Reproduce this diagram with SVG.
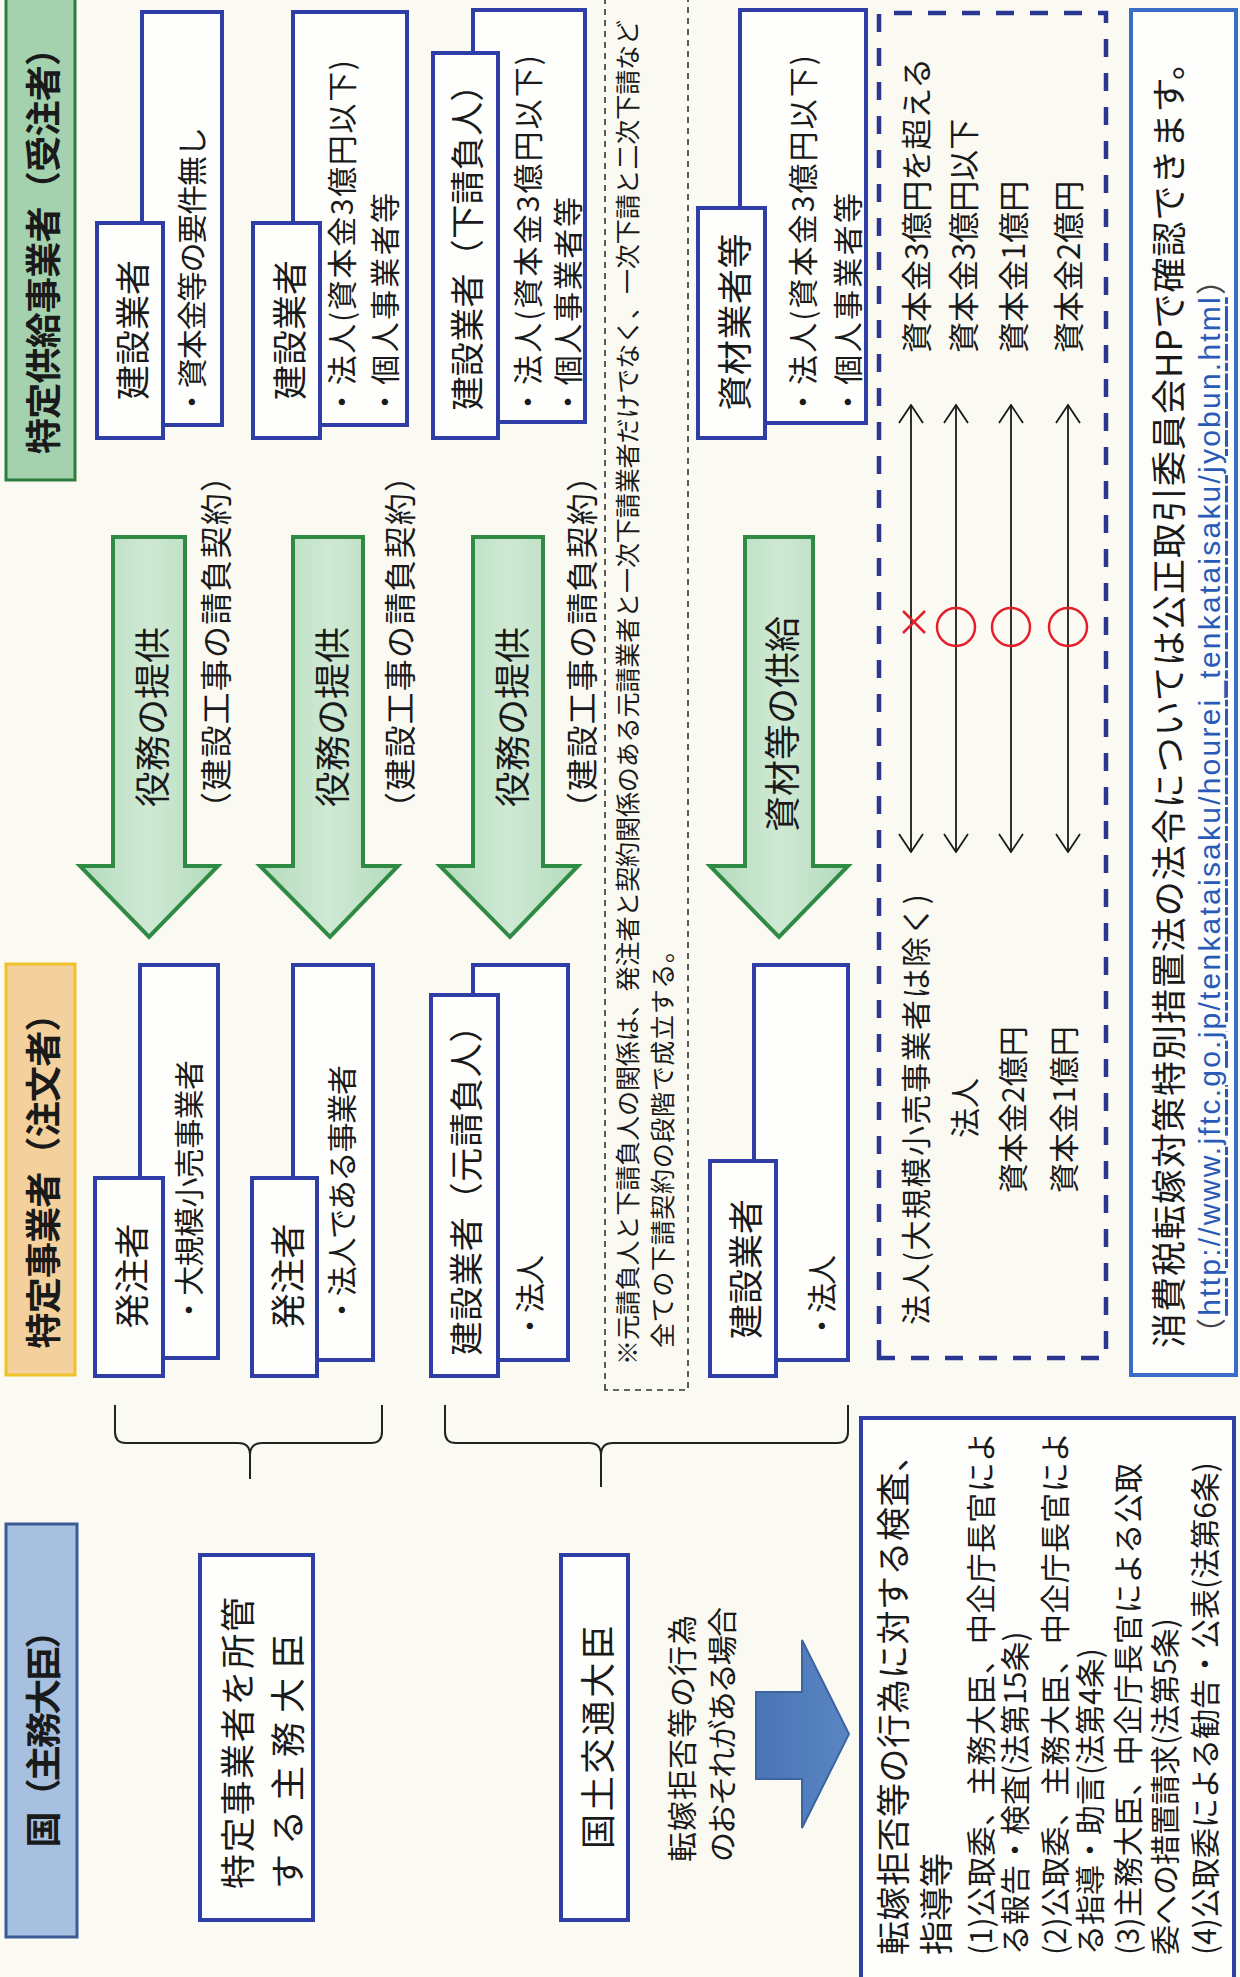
<svg xmlns="http://www.w3.org/2000/svg" width="1240" height="1977" viewBox="0 0 1240 1977">
<defs>
<style>
.bx{fill:#fefefc;stroke:#2e3ea6;stroke-width:4}
.t{font-family:"Noto Sans CJK JP","Noto Sans CJK SC",sans-serif;fill:#1a1a1a;dominant-baseline:central}
.hd{font-size:36px;font-weight:700}
.ttl{font-size:35px}
.dt{font-size:31px}
.sm{font-size:30px}
.nt{font-size:25px}
.m{text-anchor:middle}
.garrow{fill:url(#gg);stroke:#2f8a43;stroke-width:4;stroke-linejoin:miter}
.dbl{stroke:#1a1a1a;stroke-width:1.8;fill:none;marker-start:url(#ah);marker-end:url(#ah)}
.brace{fill:none;stroke:#222;stroke-width:2}
.red{fill:none;stroke:#e3202b;stroke-width:2.5}
</style>
<linearGradient id="gg" x1="0" y1="0" x2="0" y2="1">
<stop offset="0" stop-color="#b3dbbb"/>
<stop offset="0.5" stop-color="#cfe9d4"/>
<stop offset="1" stop-color="#b3dbbb"/>
</linearGradient>
<linearGradient id="bg" x1="0" y1="0" x2="0" y2="1">
<stop offset="0" stop-color="#4a74b4"/>
<stop offset="1" stop-color="#5a86c4"/>
</linearGradient>
<marker id="ah" viewBox="0 0 20 26" markerWidth="20" markerHeight="26" refX="19" refY="13" orient="auto-start-reverse" markerUnits="userSpaceOnUse">
<path d="M1,1 L19,13 L1,25" fill="none" stroke="#1a1a1a" stroke-width="1.8"/>
</marker>
</defs>
<rect x="0" y="0" width="1240" height="1977" fill="#fafaf3"/>
<g transform="translate(0,1977) rotate(-90)">

<g id="connectors">
<polygon class="garrow" points="1440,113 1111,113 1111,80 1040,149 1111,218 1111,185 1440,185"/>
<polygon class="garrow" points="1440,293 1111,293 1111,260 1040,330 1111,398 1111,363 1440,363"/>
<polygon class="garrow" points="1440,473 1111,473 1111,440 1040,510 1111,578 1111,543 1440,543"/>
<polygon class="garrow" points="1440,745 1111,745 1111,710 1040,779 1111,848 1111,813 1440,813"/>
<text class="t m" x="1260" y="150" style="font-size:36px">役務の提供</text>
<text class="t m" x="1260" y="330" style="font-size:36px">役務の提供</text>
<text class="t m" x="1260" y="510" style="font-size:36px">役務の提供</text>
<text class="t m" x="1253" y="780" style="font-size:36px">資材等の供給</text>
<text class="t m" x="1335" y="214" style="font-size:32px" textLength="364">（建設工事の請負契約）</text>
<text class="t m" x="1335" y="398" style="font-size:32px" textLength="364">（建設工事の請負契約）</text>
<text class="t m" x="1335" y="580" style="font-size:32px" textLength="364">（建設工事の請負契約）</text>
<path class="brace" d="M572 115 L545 115 Q534 115 534 126 L534 238 Q534 250 522 250 L498 250 M522 250 Q534 250 534 262 L534 371 Q534 382 545 382 L572 382"/>
<path class="brace" d="M572 445 L545 445 Q534 445 534 456 L534 589 Q534 601 522 601 L490 601 M522 601 Q534 601 534 613 L534 837 Q534 848 545 848 L572 848"/>
<polygon points="198,756 285,756 285,802 337,802 243,849 149,802 198,802" fill="url(#bg)" stroke="#3d64a0" stroke-width="2"/>
<line class="dbl" x1="1125" y1="911" x2="1572" y2="911"/>
<line class="dbl" x1="1125" y1="956" x2="1572" y2="956"/>
<line class="dbl" x1="1125" y1="1011" x2="1572" y2="1011"/>
<line class="dbl" x1="1125" y1="1068" x2="1572" y2="1068"/>
</g>

<g id="header-supplier">
<rect x="1497" y="6" width="495" height="69" fill="#a5d2ae" stroke="#2e7d3f" stroke-width="3"/>
<text class="t hd m" x="1735" y="41" textLength="424">特定供給事業者（受注者）</text>
</g>
<g id="header-orderer">
<rect x="602" y="6" width="411" height="69" fill="#f3d09c" stroke="#f0c22a" stroke-width="3"/>
<text class="t hd m" x="805" y="41" textLength="353">特定事業者（注文者）</text>
</g>
<g id="header-state">
<rect x="40" y="6" width="413" height="71" fill="#a7c0df" stroke="#3c5a96" stroke-width="3"/>
<text class="t hd m" x="247" y="41" textLength="235">国（主務大臣）</text>
</g>

<g id="supplier-1">
<rect class="bx" x="1552" y="142" width="413" height="80"/>
<rect class="bx" x="1539" y="97" width="215" height="66"/>
<text class="t ttl m" x="1647" y="130">建設業者</text>
<text class="t sm" x="1560" y="190" textLength="290">・資本金等の要件無し</text>
</g>
<g id="supplier-2">
<rect class="bx" x="1552" y="293" width="413" height="114"/>
<rect class="bx" x="1539" y="253" width="215" height="67"/>
<text class="t ttl m" x="1647" y="287">建設業者</text>
<text class="t sm" x="1560" y="340" textLength="357">・法人(資本金3億円以下)</text>
<text class="t sm" x="1560" y="383" textLength="224">・個人事業者等</text>
</g>
<g id="supplier-3">
<rect class="bx" x="1555" y="473" width="412" height="112"/>
<rect class="bx" x="1539" y="433" width="385" height="65"/>
<text class="t m" x="1738" y="465" style="font-size:34px" textLength="343">建設業者（下請負人）</text>
<text class="t sm" x="1560" y="526" textLength="362">・法人(資本金3億円以下)</text>
<text class="t sm" x="1560" y="566" textLength="220">・個人事業者等</text>
</g>
<g id="supplier-4">
<rect class="bx" x="1554" y="740" width="413" height="126"/>
<rect class="bx" x="1539" y="698" width="230" height="67"/>
<text class="t ttl m" x="1655" y="732" textLength="177">資材業者等</text>
<text class="t sm" x="1560" y="801" textLength="362">・法人(資本金3億円以下)</text>
<text class="t sm" x="1560" y="846" textLength="224">・個人事業者等</text>
</g>

<g id="orderer-1">
<rect class="bx" x="619" y="140" width="393" height="78"/>
<rect class="bx" x="601" y="95" width="198" height="68"/>
<text class="t ttl m" x="701" y="129">発注者</text>
<text class="t sm" x="652" y="187" textLength="265">・大規模小売事業者</text>
</g>
<g id="orderer-2">
<rect class="bx" x="617" y="293" width="395" height="80"/>
<rect class="bx" x="601" y="252" width="198" height="65"/>
<text class="t ttl m" x="701" y="285">発注者</text>
<text class="t sm" x="652" y="340" textLength="260">・法人である事業者</text>
</g>
<g id="orderer-3">
<rect class="bx" x="617" y="473" width="395" height="95"/>
<rect class="bx" x="601" y="431" width="381" height="67"/>
<text class="t m" x="795" y="464" style="font-size:34px" textLength="347">建設業者（元請負人）</text>
<text class="t sm" x="636" y="528" textLength="86">・法人</text>
</g>
<g id="orderer-4">
<rect class="bx" x="617" y="754" width="395" height="94"/>
<rect class="bx" x="601" y="710" width="215" height="66"/>
<text class="t ttl m" x="708" y="743">建設業者</text>
<text class="t sm" x="636" y="820" textLength="86">・法人</text>
</g>

<g id="note">
<rect x="587" y="605" width="1420" height="83" fill="none" stroke="#333" stroke-width="1.6" stroke-dasharray="6 5"/>
<text class="t nt" x="612" y="626" textLength="1345">※元請負人と下請負人の関係は、発注者と契約関係のある元請業者と一次下請業者だけでなく、一次下請と二次下請など</text>
<text class="t nt" x="629" y="661" textLength="410">全ての下請契約の段階で成立する。</text>
</g>

<g id="comparison">
<rect x="619" y="879" width="1345" height="227" fill="none" stroke="#2b3592" stroke-width="4.5" stroke-dasharray="18 16"/>
<text class="t sm" x="652" y="914" textLength="431">法人(大規模小売事業者は除く)</text>
<text class="t sm m" x="869" y="963">法人</text>
<text class="t sm" x="784" y="1011">資本金2億円</text>
<text class="t sm" x="784" y="1062">資本金1億円</text>
<text class="t dt" x="1624" y="914">資本金3億円を超える</text>
<text class="t dt" x="1624" y="961">資本金3億円以下</text>
<text class="t dt" x="1624" y="1011">資本金1億円</text>
<text class="t dt" x="1624" y="1066">資本金2億円</text>
<path class="red" d="M1344 903 L1366 925 M1366 903 L1344 925" stroke-width="4"/>
<circle class="red" cx="1350" cy="956" r="19"/>
<circle class="red" cx="1350" cy="1011" r="19"/>
<circle class="red" cx="1350" cy="1068" r="19"/>
</g>

<g id="url-box">
<rect x="602" y="1131" width="1365" height="105" fill="#fdfdfb" stroke="#3a6cc8" stroke-width="4"/>
<text class="t" x="629" y="1166" style="font-size:35px" textLength="1303">消費税転嫁対策特別措置法の法令については公正取引委員会HPで確認できます。</text>
<text class="t" x="629" y="1209" style="font-size:30px;fill:#444" textLength="1083">（<tspan style="fill:#2a5ab8;text-decoration:underline;font-family:'Liberation Sans',sans-serif">http://www.jftc.go.jp/tenkataisaku/hourei_tenkataisaku/jyobun.html</tspan>）</text>
</g>

<g id="minister-1">
<rect class="bx" x="57" y="200" width="365" height="113"/>
<text class="t ttl" x="88" y="235" textLength="292">特定事業者を所管</text>
<text class="t ttl" x="88" y="285" textLength="255">する主務大臣</text>
</g>
<g id="minister-2">
<rect class="bx" x="57" y="561" width="365" height="67"/>
<text class="t ttl m" x="240" y="595" textLength="224">国土交通大臣</text>
</g>
<g id="case-label">
<text class="t sm" x="115" y="680" textLength="247">転嫁拒否等の行為</text>
<text class="t sm" x="115" y="720" textLength="255">のおそれがある場合</text>
</g>

<g id="measures">
<rect class="bx" x="-20" y="861" width="579" height="373"/>
<text class="t" x="22" y="891" style="font-size:34px" textLength="517">転嫁拒否等の行為に対する検査、</text>
<text class="t" x="22" y="934" style="font-size:34px">指導等</text>
<text class="t sm" x="22" y="979" textLength="523">(1)公取委、主務大臣、中企庁長官によ</text>
<text class="t sm" x="22" y="1013">る報告・検査(法第15条)</text>
<text class="t sm" x="22" y="1053" textLength="523">(2)公取委、主務大臣、中企庁長官によ</text>
<text class="t sm" x="22" y="1088">る指導・助言(法第4条)</text>
<text class="t sm" x="22" y="1126" textLength="492">(3)主務大臣、中企庁長官による公取</text>
<text class="t sm" x="22" y="1163">委への措置請求(法第5条)</text>
<text class="t sm" x="22" y="1203">(4)公取委による勧告・公表(法第6条)</text>
</g>

</g>
</svg>
